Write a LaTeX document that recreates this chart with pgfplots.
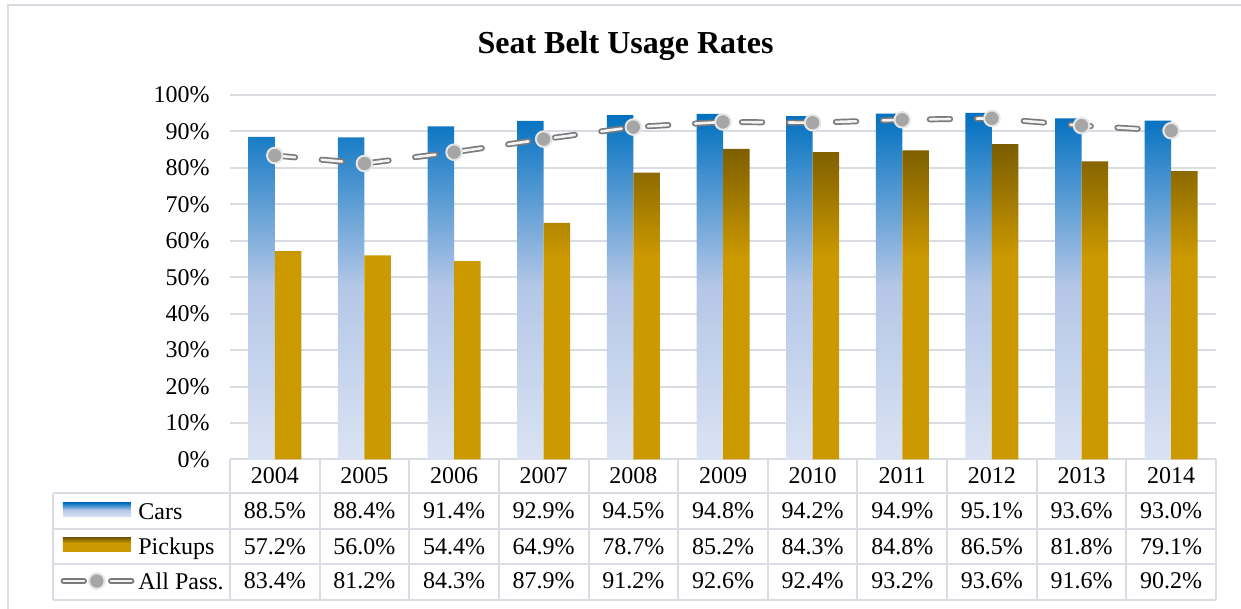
\documentclass[border=0pt]{standalone}
\usepackage{pgfplots}
\pgfplotsset{compat=1.18}
\usepackage{pgfplotstable}
\usepackage{fontspec}
\setmainfont{Liberation Serif}

\definecolor{gridc}{HTML}{D9DCE3}
\definecolor{cardark}{HTML}{0070C0}
\definecolor{carmid}{HTML}{B4C7E7}
\definecolor{carlow}{HTML}{DAE3F3}
\definecolor{pickdark}{HTML}{7A5C00}
\definecolor{pickgold}{HTML}{CC9900}
\definecolor{linegray}{HTML}{7A7A7A}
\definecolor{linefill}{HTML}{F4F4F4}
\definecolor{markfill}{HTML}{A6A6A6}
\definecolor{markedge}{HTML}{E6E6E6}

% bar gradients (25bp = bar bottom, 75bp = bar top)
\pgfdeclareverticalshading{carshade}{100bp}{color(0bp)=(carlow); color(25bp)=(carlow); color(50bp)=(carmid); color(75bp)=(cardark); color(100bp)=(cardark)}
\pgfdeclareverticalshading{pickshade}{100bp}{color(0bp)=(pickgold); color(25bp)=(pickgold); color(57bp)=(pickgold); color(75bp)=(pickdark); color(100bp)=(pickdark)}

\pgfplotstableread{
x year cars pickups allpass
0 2004 88.5 57.2 83.4
1 2005 88.4 56.0 81.2
2 2006 91.4 54.4 84.3
3 2007 92.9 64.9 87.9
4 2008 94.5 78.7 91.2
5 2009 94.8 85.2 92.6
6 2010 94.2 84.3 92.4
7 2011 94.9 84.8 93.2
8 2012 95.1 86.5 93.6
9 2013 93.6 81.8 91.6
10 2014 93.0 79.1 90.2
}\seatbelt

\newcommand{\tabfont}{\fontsize{12}{14}\selectfont}

\begin{document}
\begin{tikzpicture}
\useasboundingbox (-115pt,-74.75pt) rectangle (505.5pt,229.75pt);
% outer chart frame
\draw[gridc, line width=1pt] (-111pt,-80pt) -- (-111pt,227.25pt) -- (510pt,227.25pt);

\begin{axis}[
  at={(0,0)}, anchor=south west,
  scale only axis,
  width=493pt, height=182.25pt,
  xmin=-0.5, xmax=10.5,
  ymin=0, ymax=100,
  xtick=\empty,
  ytick={0,10,...,100},
  yticklabel={\pgfmathprintnumber{\tick}\%},
  yticklabel style={font=\tabfont, inner sep=0pt, xshift=-10pt},
  /pgf/number format/assume math mode=true,
  major tick length=0pt,
  axis line style={draw=none},
  ymajorgrids=true,
  grid style={gridc, line width=1pt},
  clip=false,
  every node near coord/.append style={font=\tabfont, text=black, anchor=center},
]

% Cars
\addplot[ybar, bar width=13.25pt, bar shift=-6.625pt, draw=none, shade, shading=carshade]
  table[x=x, y=cars] {\seatbelt};
% Pickups
\addplot[ybar, bar width=13.25pt, bar shift=6.625pt, draw=none, shade, shading=pickshade]
  table[x=x, y=pickups] {\seatbelt};
% All Pass. line
\addplot[linegray, line width=0.85pt, double=linefill, double distance=1.3pt,
  dash pattern=on 10.2pt off 13.3pt, line cap=round, mark=none]
  table[x=x, y=allpass] {\seatbelt};
\addplot[only marks, mark=*, mark size=3.9pt,
  mark options={fill=markfill, draw=markedge, line width=1pt}]
  table[x=x, y=allpass] {\seatbelt};

% data table rows
\addplot[draw=none, mark=none, nodes near coords, point meta=explicit symbolic]
  table[x=x, y expr=-4.50, meta=year] {\seatbelt};
\addplot[draw=none, mark=none, nodes near coords={\pgfplotspointmeta\%}, point meta=explicit symbolic]
  table[x=x, y expr=-14.18, meta=cars] {\seatbelt};
\addplot[draw=none, mark=none, nodes near coords={\pgfplotspointmeta\%}, point meta=explicit symbolic]
  table[x=x, y expr=-23.79, meta=pickups] {\seatbelt};
\addplot[draw=none, mark=none, nodes near coords={\pgfplotspointmeta\%}, point meta=explicit symbolic]
  table[x=x, y expr=-33.31, meta=allpass] {\seatbelt};
\end{axis}

% table grid
\foreach \k in {0,...,11}
  \draw[gridc, line width=1pt] ({\k*44.818pt},0pt) -- ({\k*44.818pt},-70.25pt);
\foreach \yy in {-16.75,-34.75,-52.25,-70.25}
  \draw[gridc, line width=1pt] (-88.35pt,\yy pt) -- (493pt,\yy pt);
\draw[gridc, line width=1pt] (-88.35pt,-16.75pt) -- (-88.35pt,-70.25pt);

% legend keys
\shade[shading=carshade] (-83.5pt,-28.75pt) rectangle (-49.5pt,-21.75pt);
\shade[shading=pickshade] (-83.5pt,-46.25pt) rectangle (-49.5pt,-39.25pt);
\draw[linegray, line width=0.85pt, double=linefill, double distance=1.3pt, line cap=round]
  (-83.2pt,-60.75pt) -- (-73pt,-60.75pt) (-59.5pt,-60.75pt) -- (-49.3pt,-60.75pt);
\filldraw[fill=markfill, draw=markedge, line width=1pt] (-66.6pt,-60.75pt) circle (3.9pt);
\node[anchor=base west, inner sep=0pt, font=\tabfont] at (-46pt,-29.9pt) {Cars};
\node[anchor=base west, inner sep=0pt, font=\tabfont] at (-46pt,-47.4pt) {Pickups};
\node[anchor=base west, inner sep=0pt, font=\tabfont] at (-46pt,-64.75pt) {All Pass.};

% title
\node[anchor=base, inner sep=0pt, font=\bfseries\fontsize{16}{19}\selectfont] at (197.75pt,202.75pt) {Seat Belt Usage Rates};
\end{tikzpicture}
\end{document}
